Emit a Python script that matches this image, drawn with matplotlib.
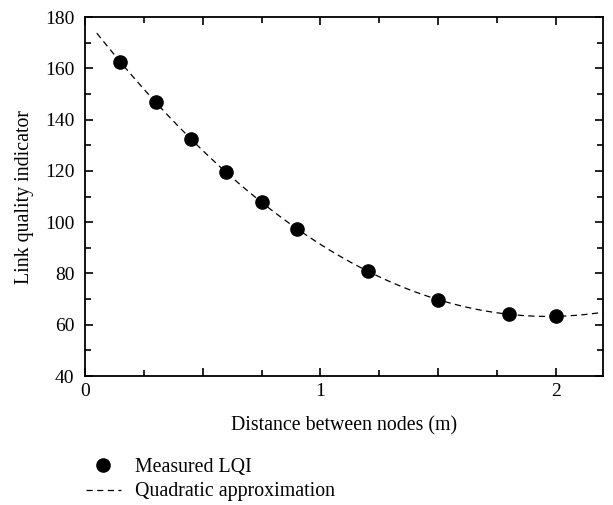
import numpy as np
import matplotlib
matplotlib.use("Agg")
import matplotlib.pyplot as plt
from matplotlib.ticker import MultipleLocator, FuncFormatter

plt.rcParams['font.family'] = ['Liberation Serif', 'DejaVu Serif']

# measured link quality vs distance
distance = [0.15, 0.3, 0.45, 0.6, 0.75, 0.9, 1.2, 1.5, 1.8, 2.0]
lqi = [162.5, 146.8, 132.4, 119.4, 107.7, 97.4, 81.0, 69.8, 64.0, 63.3]

# quadratic approximation of the measured points
coef = np.polyfit(distance, lqi, 2)
xfit = np.linspace(0.05, 2.2, 200)
yfit = np.polyval(coef, xfit)

fig = plt.figure(figsize=(6.13, 5.05), dpi=100)
ax = fig.add_axes([0.1387, 0.2554, 0.845, 0.7109])

ax.plot(xfit, yfit, '--', color='black', lw=0.9, dashes=(5, 3.5), label='Quadratic approximation')
ax.plot(distance, lqi, 'o', color='black', markersize=9.5, label='Measured LQI', zorder=3)

ax.set_xlim(0, 2.2)
ax.set_ylim(40, 180)
ax.xaxis.set_major_locator(MultipleLocator(0.5))
ax.xaxis.set_minor_locator(MultipleLocator(0.25))
ax.xaxis.set_major_formatter(FuncFormatter(lambda v, p: '%d' % v if abs(v - round(v)) < 1e-6 else ''))
ax.yaxis.set_major_locator(MultipleLocator(20))
ax.yaxis.set_minor_locator(MultipleLocator(10))
ax.tick_params(which='both', direction='in', top=True, right=True, labelsize=14, width=1.2)
ax.tick_params(which='major', length=6)
ax.tick_params(which='minor', length=4)
ax.tick_params(axis='y', pad=7.5)
ax.tick_params(axis='x', pad=5)
for s in ax.spines.values():
    s.set_linewidth(1.3)

ax.set_xlabel('Distance between nodes (m)', fontsize=14.3, labelpad=12)
ax.set_ylabel('Link quality indicator', fontsize=14.3, labelpad=8)

h, l = ax.get_legend_handles_labels()
fig.legend([h[1], h[0]], [l[1], l[0]], loc='upper left', bbox_to_anchor=(0.14, 0.094),
           frameon=False, fontsize=14.3, handlelength=1.75, handletextpad=0.75,
           labelspacing=0.3, borderaxespad=0, borderpad=0)

fig.savefig('out.png', dpi=100)
